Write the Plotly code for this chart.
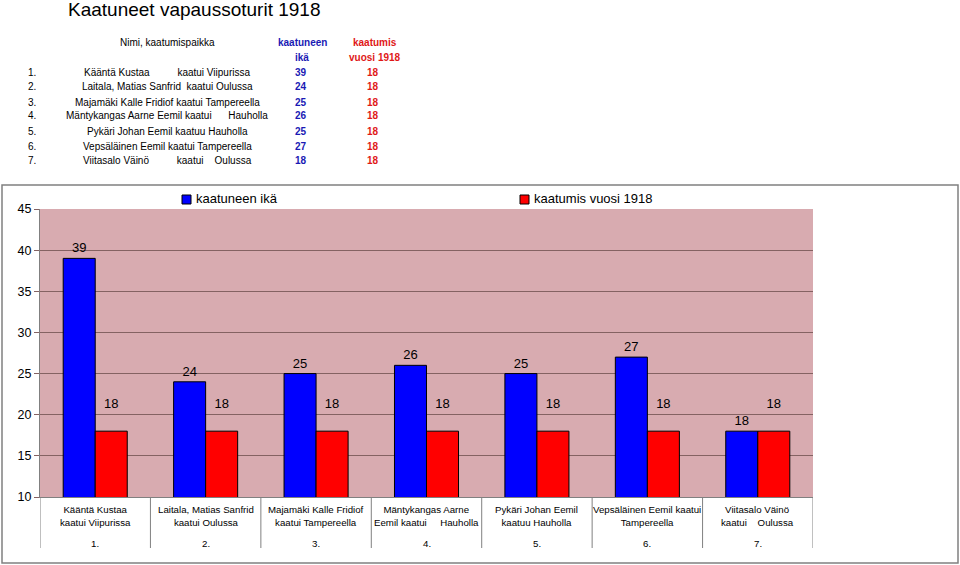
import plotly.graph_objects as go

# ---- data ----
numbers = ["1.", "2.", "3.", "4.", "5.", "6.", "7."]
names_table = [
    "Kääntä Kustaa&nbsp;&nbsp;&nbsp;&nbsp;&nbsp;&nbsp;&nbsp;&nbsp;&nbsp;&nbsp;kaatui Viipurissa",
    "Laitala, Matias Sanfrid&nbsp;&nbsp;kaatui Oulussa",
    "Majamäki Kalle Fridiof kaatui Tampereella",
    "Mäntykangas Aarne Eemil kaatui&nbsp;&nbsp;&nbsp;&nbsp;&nbsp;&nbsp;Hauholla",
    "Pykäri Johan Eemil kaatuu Hauholla",
    "Vepsäläinen Eemil kaatui Tampereella",
    "Viitasalo Väinö&nbsp;&nbsp;&nbsp;&nbsp;&nbsp;&nbsp;&nbsp;&nbsp;&nbsp;&nbsp;kaatui&nbsp;&nbsp;&nbsp;&nbsp;Oulussa",
]
axis_names = [
    "Kääntä Kustaa<br>kaatui Viipurissa",
    "Laitala, Matias Sanfrid<br>kaatui Oulussa",
    "Majamäki Kalle Fridiof<br>kaatui Tampereella",
    "Mäntykangas Aarne<br>Eemil kaatui&nbsp;&nbsp;&nbsp;&nbsp;&nbsp;Hauholla",
    "Pykäri Johan Eemil<br>kaatuu Hauholla",
    "Vepsäläinen Eemil kaatui<br>Tampereella",
    "Viitasalo Väinö<br>kaatui&nbsp;&nbsp;&nbsp;&nbsp;Oulussa",
]
age = [39, 24, 25, 26, 25, 27, 18]
year = [18, 18, 18, 18, 18, 18, 18]
series_names = ["kaatuneen ikä", "kaatumis vuosi 1918"]
y_ticks = [10, 15, 20, 25, 30, 35, 40, 45]

FONT = "Liberation Sans, Arial, sans-serif"
BLUE = "#0000ff"
RED = "#ff0000"
GRID = "#846262"

# pixel -> paper helpers (plot area: x 40..813, y 209..497)
L, R, T, B = 40, 813, 209, 497
def xp(px):
    return (px - L) / (R - L)
def yp(py):
    return (B - py) / (B - T)

fig = go.Figure()
fig.add_trace(go.Bar(
    x=numbers, y=age, name=series_names[0],
    marker=dict(color=BLUE, line=dict(color="black", width=1)),
    text=age, textposition="outside", cliponaxis=False,
    textfont=dict(size=13, color="black", family=FONT),
))
fig.add_trace(go.Bar(
    x=numbers, y=year, name=series_names[1],
    marker=dict(color=RED, line=dict(color="black", width=1)),
    text=year, texttemplate="%{text}<br>&nbsp;", textposition="outside", cliponaxis=False,
    textfont=dict(size=13, color="black", family=FONT),
))

ann = []
def pa(text, px, py, size=10, color="black", xanchor="center"):
    ann.append(dict(text=text, xref="paper", yref="paper", x=xp(px), y=yp(py),
                    xanchor=xanchor, yanchor="middle", showarrow=False,
                    font=dict(size=size, color=color, family=FONT)))

# title
pa("Kaatuneet vapaussoturit 1918", 66, 9, size=19, xanchor="left")
# table header
pa("Nimi, kaatumispaikka", 167, 42)
pa("<b>kaatuneen</b>", 302, 42, color="#1a1ab4")
pa("<b>ikä</b>", 302, 57, color="#1a1ab4")
pa("<b>kaatumis</b>", 375, 42, color="#e01818")
pa("<b>vuosi 1918</b>", 375, 57, color="#e01818")
row_y = [73, 87, 102, 116, 131, 146, 161]
for i in range(7):
    py = row_y[i]
    pa(numbers[i], 32, py)
    pa(names_table[i], 167, py)
    pa("<b>%d</b>" % age[i], 301, py, color="#1a1ab4")
    pa("<b>%d</b>" % year[i], 373, py, color="#e01818")
# legend texts
pa(series_names[0], 194, 199, size=13, xanchor="left")
pa(series_names[1], 532, 199, size=13, xanchor="left")

# category labels below the axis (positioned on the category axis by index)
for i in range(7):
    ann.append(dict(text=axis_names[i], xref="x", yref="paper", x=i, y=yp(516),
                    xanchor="center", yanchor="middle", showarrow=False,
                    font=dict(size=9.7, color="black", family=FONT)))
    ann.append(dict(text=numbers[i], xref="x", yref="paper", x=i, y=yp(543),
                    xanchor="center", yanchor="middle", showarrow=False,
                    font=dict(size=9.7, color="black", family=FONT)))

shapes = [
    # outer chart frame
    dict(type="rect", xref="paper", yref="paper", x0=xp(2), x1=xp(958), y0=yp(563), y1=yp(185),
         line=dict(color="#808080", width=1.5), layer="below"),
    # legend swatches
    dict(type="rect", xref="paper", yref="paper", x0=xp(182), x1=xp(191), y0=yp(204), y1=yp(195),
         fillcolor=BLUE, line=dict(color="black", width=1)),
    dict(type="rect", xref="paper", yref="paper", x0=xp(520), x1=xp(529), y0=yp(204), y1=yp(195),
         fillcolor=RED, line=dict(color="black", width=1)),
]
# category dividers under the axis
for k in range(len(numbers) + 1):
    shapes.append(dict(type="line", xref="x", yref="paper", x0=k - 0.5, x1=k - 0.5,
                       y0=yp(548), y1=yp(497), line=dict(color="#808080", width=1)))

fig.update_layout(
    width=960, height=565,
    margin=dict(l=L, r=960 - R, t=T, b=565 - B, autoexpand=False),
    paper_bgcolor="white",
    plot_bgcolor="#d8abb0",
    barmode="group", bargap=0.42, bargroupgap=0,
    showlegend=False,
    font=dict(family=FONT, color="black"),
    annotations=ann, shapes=shapes,
)
fig.update_yaxes(
    range=[10, 45], tickvals=y_ticks, showgrid=True, gridcolor=GRID, gridwidth=1,
    showline=True, linecolor="#808080", ticks="outside", ticklen=5, tickcolor=GRID,
    tickfont=dict(size=12.5, color="black", family=FONT), zeroline=False, automargin=False,
)
fig.update_xaxes(
    type="category", range=[-0.5, 6.5], showticklabels=False, showline=True,
    linecolor="#808080", ticks="", showgrid=False, automargin=False,
)

fig.write_html("out.html")
